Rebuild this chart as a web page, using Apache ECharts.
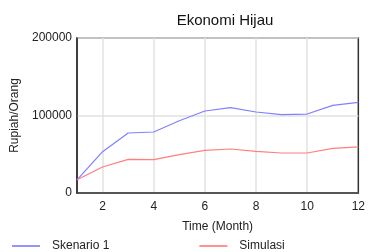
<!DOCTYPE html>
<html>
<head>
<meta charset="utf-8">
<script src="https://cdn.jsdelivr.net/npm/echarts@6/dist/echarts.min.js"></script>
<style>
  html, body { margin: 0; padding: 0; background: #fff; }
  #chart { width: 368px; height: 252px; }
</style>
</head>
<body>
<div id="chart"></div>
<script>
// data
var months = ['1', '2', '3', '4', '5', '6', '7', '8', '9', '10', '11', '12'];
var skenario1 = [17000, 53300, 77400, 78700, 93300, 105800, 110100, 104500, 101100, 101900, 113100, 117000];
var simulasi = [17000, 33500, 43400, 43000, 49500, 55000, 56800, 53800, 51600, 51600, 57600, 59400];

var font = 'Liberation Sans, Arial, sans-serif';
var chart = echarts.init(document.getElementById('chart'));

chart.setOption({
  animation: false,
  title: {
    text: 'Ekonomi Hijau',
    left: 220,
    textAlign: 'center',
    top: 8,
    textStyle: { fontFamily: font, fontSize: 15, fontWeight: 'normal', color: '#111' }
  },
  legend: {
    left: 7,
    bottom: -5,
    itemWidth: 28,
    itemHeight: 8,
    itemGap: 90,
    icon: 'path://M0,0 L1,0 L1,0.06 L0,0.06 Z',
    textStyle: { fontFamily: font, fontSize: 12, color: '#222', padding: [0, 0, 0, 7] },
    data: ['Skenario 1', 'Simulasi']
  },
  grid: {
    left: 77, right: 5, top: 38, bottom: 59,
    show: true, borderColor: '#333', borderWidth: 1.5
  },
  xAxis: {
    type: 'category',
    data: months,
    boundaryGap: false,
    name: 'Time (Month)',
    nameLocation: 'middle',
    nameGap: 28,
    nameTextStyle: { fontFamily: font, fontSize: 12, color: '#222' },
    axisLine: { lineStyle: { color: '#333', width: 1.5 } },
    axisTick: { show: false },
    axisLabel: {
      fontFamily: font, fontSize: 12, color: '#222', margin: 8,
      interval: function (i) { return i % 2 === 1; }
    },
    splitLine: {
      show: true,
      interval: function (i) { return i % 2 === 1 && i < 11; },
      lineStyle: { color: '#e2e2e2', width: 1.5 }
    }
  },
  yAxis: {
    type: 'value',
    min: 0, max: 200000, interval: 100000,
    name: 'Rupiah/Orang',
    nameLocation: 'middle',
    nameGap: 55,
    nameTextStyle: { fontFamily: font, fontSize: 12, color: '#222' },
    axisLine: { show: true, lineStyle: { color: '#333', width: 1.5 } },
    axisTick: { show: false },
    axisLabel: {
      fontFamily: font, fontSize: 12, color: '#222', margin: 5,
      formatter: function (v) { return String(v); }
    },
    splitLine: { lineStyle: { color: '#e2e2e2', width: 1.5 } }
  },
  series: [
    {
      name: 'Skenario 1', type: 'line', data: skenario1,
      symbol: 'none', color: '#8080ff', lineStyle: { width: 1.2 }
    },
    {
      name: 'Simulasi', type: 'line', data: simulasi,
      symbol: 'none', color: '#ff7f7f', lineStyle: { width: 1.2 }
    }
  ]
});
</script>
</body>
</html>
